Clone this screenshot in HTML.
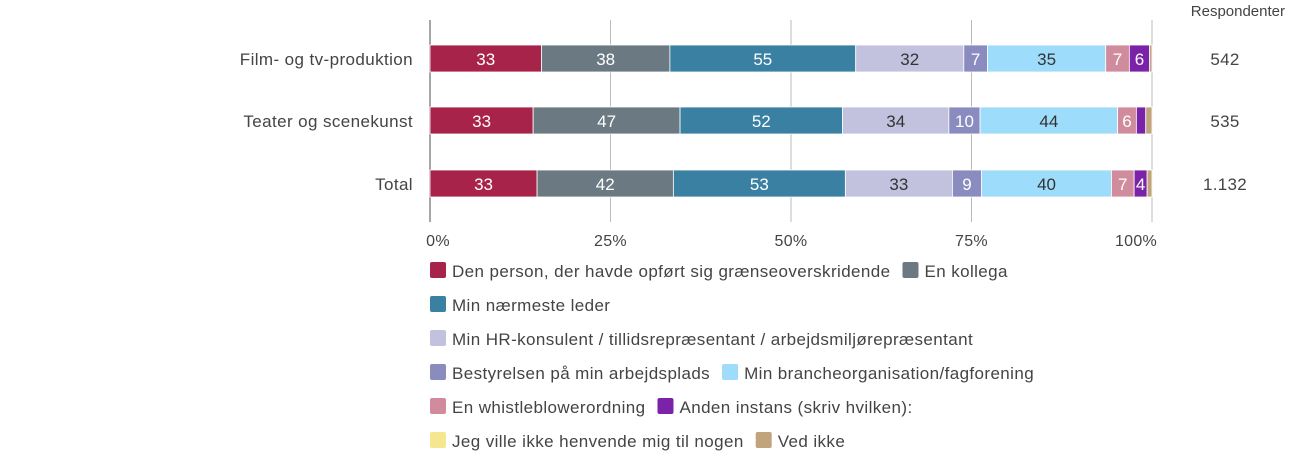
<!DOCTYPE html>
<html><head><meta charset="utf-8">
<style>
body{margin:0;background:#fff;font-family:"Liberation Sans",sans-serif;}
svg text{font-family:"Liberation Sans",sans-serif;}
</style></head>
<body>
<svg id="chart" width="1299" height="457" xmlns="http://www.w3.org/2000/svg"></svg>
<script>
const categories = ["Film- og tv-produktion","Teater og scenekunst","Total"];
const respondents = ["542","535","1.132"];
const seriesNames = ["Den person, der havde opført sig grænseoverskridende","En kollega","Min nærmeste leder","Min HR-konsulent / tillidsrepræsentant / arbejdsmiljørepræsentant","Bestyrelsen på min arbejdsplads","Min brancheorganisation/fagforening","En whistleblowerordning","Anden instans (skriv hvilken):","Jeg ville ikke henvende mig til nogen","Ved ikke"];
const colors = ["#a8234a","#6b7a82","#3a80a2","#c2c2de","#8a8cc0","#9ddcfb","#d08c9c","#7b23a8","#f5e690","#c2a47c"];
const values = [
  [33,38,55,32,7,35,7,6,0,0.7],
  [33,47,52,34,10,44,6,3,0,2],
  [33,42,53,33,9,40,7,4,0,1.5]
];
const ticks = ["0%","25%","50%","75%","100%"];
const x0=430, x1=1152, barH=27, rowY=[45,107,170];
const svg=document.getElementById('chart');
const NS="http://www.w3.org/2000/svg";
function mk(t,a,txt){const e=document.createElementNS(NS,t);for(const k in a)e.setAttribute(k,a[k]);if(txt!=null)e.textContent=txt;svg.appendChild(e);return e;}
const xs=f=>x0+f*(x1-x0);
ticks.forEach((t,i)=>{
  const x=xs(i/(ticks.length-1));
  const l=mk('line',{x1:x,x2:x,y1:20,y2:222,stroke:i==0?'#888':'#bbb','stroke-width':i==0?1.5:1});
  
  
  const off=i==0?8:(i==ticks.length-1?-16:0);
  const tx=mk('text',{x:x+off,y:246,'font-size':16,fill:'#444','text-anchor':'middle','letter-spacing':0.3},t);
  
  
});
const hdr=mk('text',{x:1285,y:16,'font-size':15,fill:'#444','text-anchor':'end'},'Respondenter');


values.forEach((row,r)=>{
  const sum=row.reduce((a,b)=>a+b,0);
  let acc=0;const y=rowY[r];
  const cl=mk('text',{x:413,y:y+20,'font-size':17,fill:'#444','text-anchor':'end','letter-spacing':0.4},categories[r]);
  
  
  row.forEach((v,s)=>{
    if(v<=0)return;
    const a=xs(acc/sum), b=xs((acc+v)/sum);acc+=v;
    const rc=mk('rect',{x:a,y:y,width:b-a,height:barH,fill:colors[s],stroke:'#fff','stroke-width':0.8});
    
    
    if(b-a>11){
      const lt=mk('text',{x:(a+b)/2,y:y+20,'font-size':17,fill:(s==3||s==5)?'#333':'#fff','text-anchor':'middle'},String(v));
      
      
    }
  });
  const rt=mk('text',{x:1225,y:y+20,'font-size':17,fill:'#444','text-anchor':'middle','letter-spacing':0.3},respondents[r]);
  
  
});
const layout=[[0,1],[2],[3],[4,5],[6,7],[8,9]];
layout.forEach((items,li)=>{
  let x=430;const y=262+li*34;
  items.forEach(s=>{
    const sw=mk('rect',{x:x,y:y,width:16,height:16,rx:2,fill:colors[s]});
    
    
    const t=mk('text',{x:x+22,y:y+15,'font-size':17,fill:'#444','letter-spacing':0.4},seriesNames[s]);
    
    
    x+=22+t.getComputedTextLength()+12;
  });
});
</script>
</body></html>
